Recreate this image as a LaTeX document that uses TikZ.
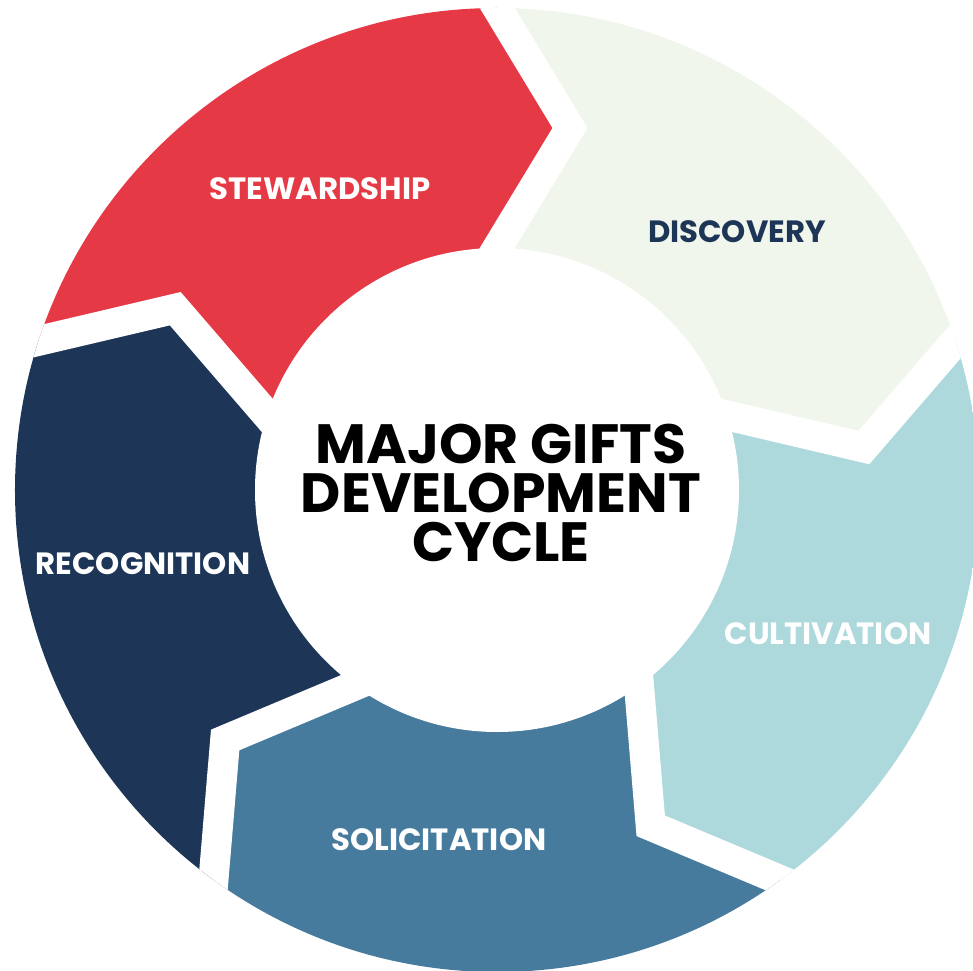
\documentclass[tikz,border=0pt]{standalone}
\usepackage[svgnames]{xcolor}
\usepackage{fontspec}
\setmainfont{Poppins}
\usepackage{tikz}
\definecolor{stewardshipRed}{HTML}{E63946}
\definecolor{discoveryCream}{HTML}{F1F6EC}
\definecolor{cultivationTeal}{HTML}{ADD9DC}
\definecolor{solicitationBlue}{HTML}{467B9D}
\definecolor{recognitionNavy}{HTML}{1D3557}

\begin{document}
\begin{tikzpicture}[
  x=0.02cm,
  y=0.02cm,
  stage gap/.style={
    draw=white,
    line width=0.6cm,
    line join=miter,
  },
  stage label/.style={
    font=\fontsize{17.5}{20}\selectfont\bfseries,
    text=white,
  },
  cycle title/.style={
    font=\fontsize{31.5}{27.8}\selectfont\bfseries,
    align=center,
    text=black,
  },
]
\useasboundingbox (-497,-480) rectangle (476,490);
% chevron at each turn of the ring
\foreach \a/\n in {90/a,18/b,-54/c,-126/d,162/e}{
  \begin{scope}[rotate=\a-90]
    \coordinate (\n-in) at (-24,202);
    \coordinate (\n-tip) at (73,362);
    \coordinate (\n-out) at (-24,522);
  \end{scope}
}
\begin{scope}
\clip (0,0) circle (482);
\foreach \s/\e/\as/\am/\ae/\col in {
    e/a/162/126/90/stewardshipRed,
    a/b/90/54/18/discoveryCream,
    b/c/18/-18/-54/cultivationTeal,
    c/d/-54/-90/-126/solicitationBlue,
    d/e/-126/-162/-198/recognitionNavy}
  \fill[\col] (\s-in) -- (\s-tip) -- (\s-out) -- (\as:700) -- (\am:700)
    -- (\ae:700) -- (\e-out) -- (\e-tip) -- (\e-in) -- (0,0) -- cycle;
\foreach \n in {a,b,c,d,e}
  \draw[stage gap] (\n-in) -- (\n-tip) -- (\n-out);
\end{scope}
\fill[white] (0,0) circle (242);

\node[stage label] (stewardship) at (-177,301) {STEWARDSHIP};
\node[stage label,text=recognitionNavy] (discovery) at (240,258) {DISCOVERY};
\node[stage label] (cultivation) at (331,-144) {CULTIVATION};
\node[stage label] (solicitation) at (-58,-350) {SOLICITATION};
\node[stage label] (recognition) at (-354,-74) {RECOGNITION};
\node[cycle title] (title) at (4,-3) {MAJOR GIFTS\\DEVELOPMENT\\CYCLE};
\end{tikzpicture}
\end{document}
